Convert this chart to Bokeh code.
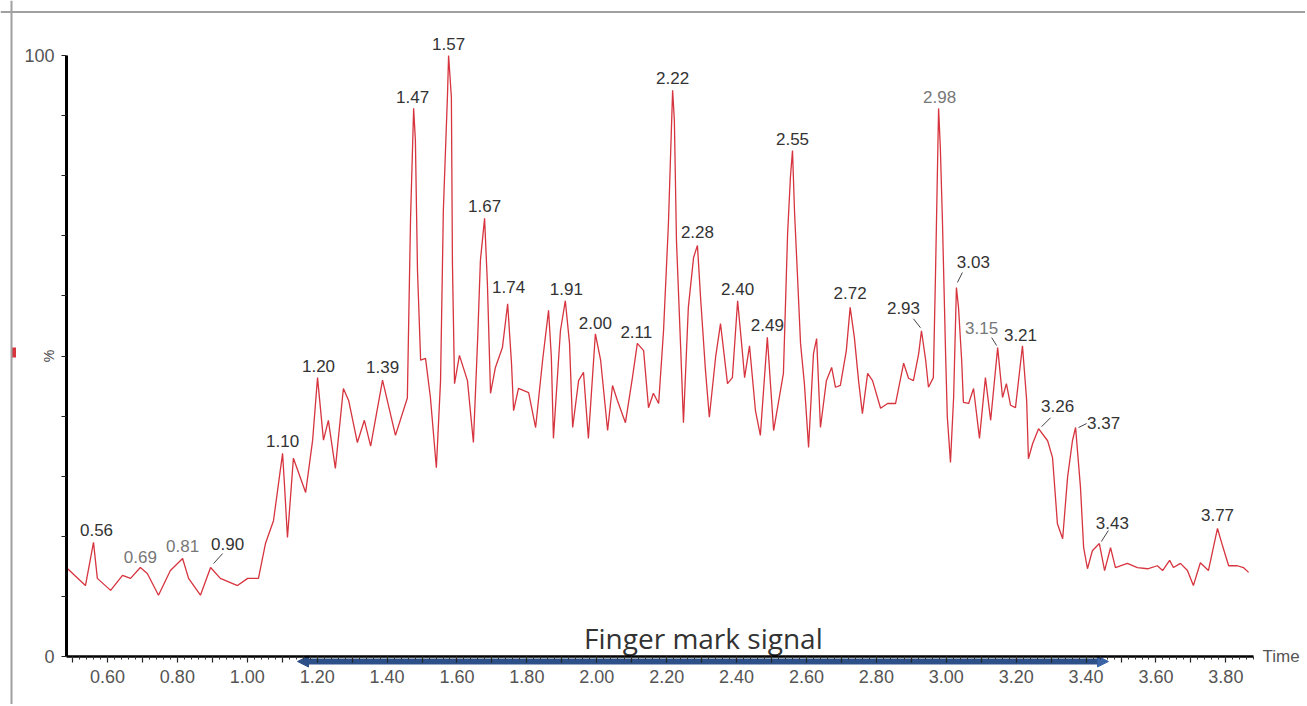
import numpy as np
from bokeh.plotting import figure
from bokeh.models import (Range1d, LinearAxis, FixedTicker, ColumnDataSource, Span,
                          Arrow, NormalHead)
from bokeh.core.properties import value
from bokeh.embed import file_html
from bokeh.resources import INLINE

# ---------------- data ----------------
time = [
    0.486, 0.537, 0.560, 0.571, 0.609, 0.643, 0.666, 0.694, 0.714, 0.746,
    0.780, 0.815, 0.832, 0.866, 0.895, 0.923, 0.972, 1.001, 1.032, 1.052,
    1.075, 1.101, 1.106, 1.115, 1.132, 1.167, 1.187, 1.201, 1.218, 1.232,
    1.252, 1.275, 1.290, 1.315, 1.335, 1.353, 1.387, 1.424, 1.458, 1.467,
    1.476, 1.481, 1.487, 1.496, 1.510, 1.524, 1.541, 1.553, 1.561, 1.573,
    1.576, 1.584, 1.587, 1.593, 1.607, 1.630, 1.647, 1.659, 1.667, 1.679,
    1.687, 1.696, 1.710, 1.730, 1.745, 1.756, 1.762, 1.776, 1.805, 1.825,
    1.845, 1.862, 1.870, 1.876, 1.896, 1.910, 1.922, 1.931, 1.948, 1.962,
    1.976, 1.996, 2.011, 2.031, 2.045, 2.059, 2.082, 2.102, 2.116, 2.134,
    2.148, 2.162, 2.177, 2.191, 2.205, 2.217, 2.222, 2.228, 2.240, 2.248,
    2.262, 2.277, 2.288, 2.297, 2.311, 2.322, 2.340, 2.354, 2.374, 2.388,
    2.403, 2.417, 2.423, 2.437, 2.454, 2.468, 2.488, 2.506, 2.534, 2.546,
    2.554, 2.560, 2.566, 2.574, 2.583, 2.594, 2.606, 2.620, 2.629, 2.640,
    2.657, 2.672, 2.683, 2.697, 2.714, 2.725, 2.737, 2.749, 2.760, 2.775,
    2.789, 2.812, 2.832, 2.855, 2.878, 2.892, 2.906, 2.921, 2.929, 2.941,
    2.949, 2.963, 2.969, 2.978, 2.983, 2.989, 2.998, 3.003, 3.012, 3.021,
    3.029, 3.035, 3.044, 3.049, 3.064, 3.078, 3.095, 3.112, 3.127, 3.147,
    3.161, 3.172, 3.184, 3.198, 3.218, 3.230, 3.235, 3.247, 3.264, 3.290,
    3.304, 3.318, 3.333, 3.347, 3.361, 3.370, 3.384, 3.393, 3.404, 3.418,
    3.438, 3.453, 3.470, 3.484, 3.518, 3.547, 3.576, 3.604, 3.619, 3.639,
    3.650, 3.670, 3.690, 3.707, 3.727, 3.750, 3.776, 3.790, 3.808, 3.833,
    3.850, 3.865,
]
intensity = [
    14.6, 11.8, 19.0, 13.0, 11.0, 13.5, 13.0, 14.8, 13.8, 10.2,
    14.3, 16.3, 13.0, 10.2, 14.8, 13.0, 11.8, 13.0, 13.0, 18.8,
    22.6, 33.8, 29.0, 19.8, 33.0, 27.3, 36.0, 46.4, 36.0, 39.3,
    31.3, 44.6, 42.6, 35.6, 39.3, 35.0, 46.0, 36.8, 43.0, 72.5,
    91.2, 85.9, 64.2, 49.3, 49.6, 43.1, 31.4, 45.9, 74.2, 93.7,
    100.0, 93.0, 65.4, 45.4, 50.1, 45.9, 35.6, 52.6, 65.9, 72.9,
    62.1, 43.8, 48.1, 51.4, 58.7, 48.8, 40.9, 44.6, 43.9, 38.1,
    49.3, 57.6, 49.8, 36.3, 54.2, 59.2, 52.1, 38.1, 45.9, 47.3,
    36.3, 53.7, 49.3, 37.6, 45.1, 42.6, 38.9, 46.4, 52.1, 50.9,
    41.4, 43.8, 42.1, 54.2, 72.0, 94.2, 89.2, 69.2, 51.4, 38.9,
    58.1, 66.4, 68.4, 59.7, 47.6, 39.8, 49.8, 55.4, 45.4, 46.4,
    59.2, 50.4, 46.4, 51.7, 40.9, 36.8, 53.1, 37.6, 47.1, 70.4,
    79.7, 84.2, 73.7, 63.7, 52.1, 45.4, 34.8, 50.4, 52.9, 38.1,
    45.9, 48.1, 44.8, 45.1, 50.9, 58.1, 53.1, 45.9, 40.4, 47.1,
    45.9, 41.3, 42.1, 42.1, 48.8, 46.3, 45.9, 50.4, 54.2, 49.3,
    44.8, 46.4, 63.1, 91.2, 84.7, 72.5, 50.4, 39.8, 32.3, 43.1,
    61.4, 58.1, 49.3, 42.3, 42.1, 44.6, 36.3, 46.4, 39.3, 51.4,
    43.1, 45.4, 41.8, 41.4, 51.7, 42.6, 32.9, 35.4, 37.9, 35.9,
    33.1, 22.1, 19.6, 29.8, 35.9, 38.1, 28.1, 18.1, 14.6, 17.6,
    18.8, 14.3, 18.1, 14.8, 15.5, 14.8, 14.6, 15.1, 14.3, 16.0,
    14.8, 15.5, 14.3, 11.8, 15.6, 14.3, 21.3, 18.5, 15.1, 15.1,
    14.8, 14.0,
]
peak_labels = ["0.56", "0.69", "0.81", "0.90", "1.10", "1.20", "1.39", "1.47",
               "1.57", "1.67", "1.74", "1.91", "2.00", "2.11", "2.22", "2.28",
               "2.40", "2.49", "2.55", "2.72", "2.93", "2.98", "3.03", "3.15",
               "3.21", "3.26", "3.37", "3.43", "3.77"]
x_tick_labels = ["0.60", "0.80", "1.00", "1.20", "1.40", "1.60", "1.80", "2.00",
                 "2.20", "2.40", "2.60", "2.80", "3.00", "3.20", "3.40", "3.60", "3.80"]
y_tick_labels = ["0", "100"]

# ---------------- styling / layout ----------------
W, H = 1305, 704
PXU = 349.5             # px per minute
PYU = 6.01              # px per %
X0 = 0.56 - 93 / PXU
X1 = X0 + W / PXU
Y1 = 656 / PYU
Y0 = Y1 - H / PYU
XS, YS = PXU, PYU
AX_X = 0.483            # where the intensity axis sits
AX_XEND = 3.88

# label offsets (screen px, relative to peak apex): dx, dy (negative = up)
label_off = {
    "0.56": (3, -12), "0.69": (0, -11), "0.81": (0, -13), "0.90": (17, -24),
    "1.10": (0, -12), "1.20": (1, -12), "1.39": (0, -13), "1.47": (-1, -11),
    "1.57": (0, -12), "1.67": (0, -12), "1.74": (1, -17), "1.91": (1, -12),
    "2.00": (0, -11), "2.11": (-1, -11), "2.22": (0, -12), "2.28": (0, -13),
    "2.40": (0, -12), "2.49": (0, -12), "2.55": (0, -11), "2.72": (0, -14),
    "2.93": (-18, -23), "2.98": (1, -11), "3.03": (17, -25), "3.15": (-16, -20),
    "3.21": (-2, -11), "3.26": (19, -23), "3.37": (28, -5), "3.43": (13, -21),
    "3.77": (0, -13),
}
leaders = {
    "0.90": (12, -14, 3, -4), "2.93": (-8, -12, -1, -3), "3.03": (6, -15, 1, -5),
    "3.15": (-6, -10, -1, -2), "3.26": (12, -11, 3, -2), "3.37": (11, -4, 3, 0),
    "3.43": (9, -13, 2, -2),
}
light = {"0.69", "0.81", "2.98", "3.15"}

p = figure(width=W, height=H, x_range=Range1d(X0, X1), y_range=Range1d(Y0, Y1),
           x_axis_type=None, y_axis_type=None, output_backend="svg",
           toolbar_location=None, min_border=0, min_border_left=0,
           min_border_right=0, min_border_top=0, min_border_bottom=0)
p.outline_line_color = None
p.background_fill_color = "white"
p.border_fill_color = "white"

# outer grey frame (top and left edges)
p.add_layout(Span(location=X0 + 11 / XS, dimension="height", line_color="#a0a0a0", line_width=2))
p.add_layout(Span(location=Y1 - 11.5 / YS, dimension="width", line_color="#a0a0a0", line_width=2))

# blue double arrow under the time axis
p.add_layout(Arrow(x_start=1.1437, y_start=-0.83, x_end=3.464, y_end=-0.83,
                   line_color="#2d5088", line_width=6, level="underlay",
                   start=NormalHead(size=11, fill_color="#2d5088", line_color="#2d5088"),
                   end=NormalHead(size=11, fill_color="#3a64a6", line_color="#3a64a6")))

# trace
p.line(time, intensity, line_color="#d6343e", line_width=1.3)

# x axis
xmaj = [round(0.5 + 0.1 * i, 1) for i in range(34)]
xmin = [round(0.5 + 0.02 * i, 2) for i in range(170)]
xaxis = LinearAxis(fixed_location=0, bounds=(AX_X, AX_XEND),
                   ticker=FixedTicker(ticks=xmaj, minor_ticks=xmin))
lab_map = {float(s): s for s in x_tick_labels}
xaxis.major_label_overrides = {t: lab_map.get(t, "") for t in xmaj}
xaxis.axis_line_color = "black"
xaxis.axis_line_width = 2.5
xaxis.major_tick_line_color = "#222"
xaxis.major_tick_line_width = 1.2
xaxis.major_tick_out = 6
xaxis.major_tick_in = 0
xaxis.minor_tick_line_color = "#333"
xaxis.minor_tick_out = 3
xaxis.minor_tick_in = 0
xaxis.major_label_standoff = 7
xaxis.major_label_text_font = "Liberation Sans"
xaxis.major_label_text_font_size = "18px"
xaxis.major_label_text_color = "#555555"
p.add_layout(xaxis, "below")

# y axis
ymaj = list(range(0, 101, 10))
ylab = {int(s): s for s in y_tick_labels}
yaxis = LinearAxis(fixed_location=AX_X, bounds=(0, 100),
                   ticker=FixedTicker(ticks=ymaj, minor_ticks=[]))
yaxis.major_label_overrides = {t: ylab.get(t, "") for t in ymaj}
yaxis.axis_line_color = "black"
yaxis.axis_line_width = 3
yaxis.major_tick_line_color = "#222"
yaxis.major_tick_out = 5
yaxis.major_tick_in = 0
yaxis.major_label_standoff = 7
yaxis.major_label_text_font = "Liberation Sans"
yaxis.major_label_text_font_size = "18px"
yaxis.major_label_text_color = "#555555"
p.add_layout(yaxis, "left")

# "%" rotated on the intensity axis, and the little red marker at the border
p.text([AX_X - 18 / XS], [50], text=["%"], angle=np.pi / 2, text_align="center",
       text_baseline="middle", text_font=value("Liberation Sans"),
       text_font_size="14px", text_color="#444444")
p.rect([X0 + 13 / XS], [50.6], width=5, height=10, width_units="screen",
       height_units="screen", fill_color="#d6343e", line_color=None)

# "Time" axis label
p.text([3.905], [0], text=["Time"], text_align="left", text_baseline="middle",
       text_font=value("Liberation Sans"), text_font_size="17px", text_color="#555555")

# annotation text
p.text([2.305], [3.0], text=["Finger mark signal"], text_align="center",
       text_baseline="middle", text_font=value("Open Sans"), text_font_size="28px",
       text_color="#333333")

# peak labels anchored at the apex of each labelled peak
t_arr = np.array(time)
v_arr = np.array(intensity)
lx, ly, ldx, ldy, lt, lc = [], [], [], [], [], []
sx0, sy0, sx1, sy1 = [], [], [], []
for lab in peak_labels:
    val = float(lab)
    mask = np.abs(t_arr - val) <= 0.0125
    idx = int(np.argmax(np.where(mask, v_arr, -1.0)))
    px, py = t_arr[idx], v_arr[idx]
    dx, dy = label_off[lab]
    lx.append(px); ly.append(py); ldx.append(dx); ldy.append(dy); lt.append(lab)
    lc.append("#777777" if lab in light else "#333333")
    if lab in leaders:
        a, b, c, d = leaders[lab]
        sx0.append(px + a / XS); sy0.append(py - b / YS)
        sx1.append(px + c / XS); sy1.append(py - d / YS)

src = ColumnDataSource(dict(x=lx, y=ly, dx=ldx, dy=ldy, text=lt, color=lc))
p.text(x="x", y="y", text="text", x_offset="dx", y_offset="dy", source=src,
       text_align="center", text_baseline="middle", text_color="color",
       text_font=value("Liberation Sans"), text_font_size="17px")
p.segment(sx0, sy0, sx1, sy1, line_color="#444444", line_width=1)

open("out.html", "w").write(file_html(p, INLINE))
